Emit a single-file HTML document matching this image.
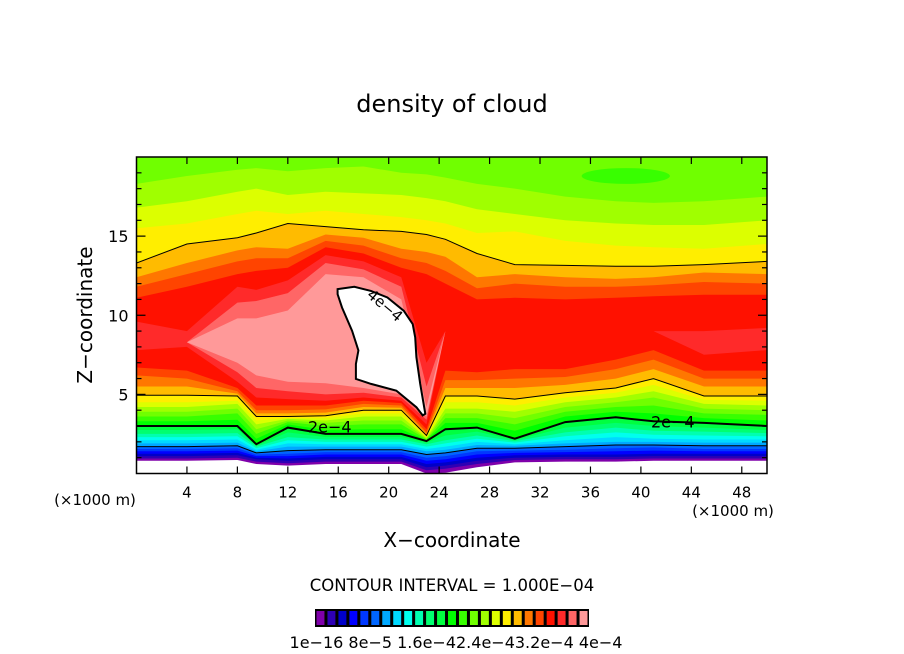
<!DOCTYPE html>
<html><head><meta charset="utf-8"><style>
html,body{margin:0;padding:0;background:#fff;}
svg{display:block;font-family:"DejaVu Sans","Liberation Sans",sans-serif;}
</style></head><body>
<svg id="chart" width="904" height="654" viewBox="0 0 904 654" xmlns="http://www.w3.org/2000/svg">
<rect x="0" y="0" width="904" height="654" fill="#fff"/>
<text x="452" y="112" text-anchor="middle" font-size="24">density of cloud</text>
<text transform="translate(92,315) rotate(-90)" text-anchor="middle" font-size="20">Z−coordinate</text>
<text x="452" y="547" text-anchor="middle" font-size="20">X−coordinate</text>
<text x="95" y="505" text-anchor="middle" font-size="15">(×1000 m)</text>
<text x="733" y="516" text-anchor="middle" font-size="15">(×1000 m)</text>
<text x="452" y="591" text-anchor="middle" font-size="16.5">CONTOUR INTERVAL = 1.000E−04</text>
<g id="plot"></g>
<g id="axes"></g>
<g id="cbar"></g>
</svg>
<script>
const colorLevels = ["#7f00aa","#2e00b4","#0000c8","#0000ff","#0038ff","#0066ff","#00a8ff","#00d8ff","#00ffee","#00ffb0","#00ff70","#00ff40","#00ff00","#38ff00","#70ff00","#a0ff00","#dcff00","#ffee00","#ffbb00","#ff7700","#ff4400","#ff1100","#ff2a2a","#ff6666","#ff9999"];
const colorbarLabels = ["1e−16","8e−5","1.6e−4","2.4e−4","3.2e−4","4e−4"];
const xTicks = [4,8,12,16,20,24,28,32,36,40,44,48];
const yTicks = [5,10,15];
const colX = [0,4,8,9.5,12,15,18,21,23,24.5,27,30,34,38,41,45,50];
const lowerBounds = [
[0.8,0.95,1.1,1.25,1.4,1.55,1.7,1.9,2.1,2.3,2.5,2.75,3.0,3.3,3.6,3.9,4.2,4.5,4.95,5.5,6.2,6.7,7.8,8.5,8.5],
[0.8,0.95,1.1,1.25,1.4,1.55,1.7,1.9,2.1,2.3,2.5,2.75,3.0,3.3,3.6,3.9,4.2,4.5,4.95,5.5,6.0,6.5,8.0,8.3,8.3],
[0.85,1.0,1.15,1.3,1.45,1.6,1.75,1.95,2.15,2.35,2.55,2.8,3.0,3.4,3.8,4.1,4.4,4.6,4.9,5.05,5.2,5.4,5.8,6.4,7.0],
[0.6,0.75,0.9,1.0,1.1,1.2,1.3,1.4,1.5,1.6,1.7,1.75,1.85,2.2,2.5,2.8,3.1,3.35,3.6,3.8,4.0,4.3,4.8,5.4,6.2],
[0.5,0.65,0.8,0.95,1.1,1.25,1.45,1.7,1.9,2.1,2.3,2.6,2.9,3.1,3.25,3.35,3.45,3.5,3.6,3.8,4.0,4.3,4.7,5.2,5.8],
[0.6,0.75,0.9,1.05,1.2,1.35,1.5,1.7,1.85,2.0,2.15,2.3,2.5,2.75,3.0,3.2,3.35,3.5,3.65,3.85,4.05,4.3,4.6,5.0,5.7],
[0.6,0.75,0.9,1.05,1.2,1.35,1.5,1.7,1.85,2.0,2.15,2.3,2.5,2.8,3.1,3.35,3.6,3.8,4.0,4.2,4.4,4.6,4.8,5.1,5.4],
[0.6,0.75,0.9,1.05,1.2,1.35,1.5,1.7,1.85,2.0,2.15,2.3,2.5,2.8,3.1,3.35,3.6,3.8,4.0,4.15,4.3,4.45,4.6,4.8,5.0],
[0.0,0.2,0.4,0.6,0.8,1.0,1.2,1.4,1.55,1.7,1.85,1.95,2.05,2.1,2.15,2.2,2.25,2.3,2.4,2.5,2.6,2.8,3.1,3.4,3.6],
[0.05,0.3,0.5,0.7,0.9,1.1,1.3,1.5,1.7,1.9,2.1,2.4,2.8,3.2,3.5,3.8,4.1,4.5,4.9,5.4,5.9,6.5,9,9,9],
[0.4,0.6,0.8,1.0,1.2,1.4,1.6,1.8,2.0,2.2,2.4,2.65,2.9,3.2,3.5,3.8,4.1,4.5,4.9,5.4,5.9,6.4,9,9,9],
[0.7,0.85,1.0,1.15,1.3,1.45,1.6,1.75,1.85,1.95,2.05,2.12,2.2,2.7,3.1,3.5,3.9,4.3,4.7,5.4,6.0,6.6,9,9,9],
[0.75,0.9,1.05,1.2,1.35,1.5,1.7,1.9,2.1,2.35,2.6,2.9,3.25,3.6,3.9,4.2,4.5,4.8,5.1,5.6,6.1,6.6,9,9,9],
[0.75,0.9,1.05,1.2,1.4,1.6,1.8,2.0,2.3,2.6,2.9,3.2,3.55,3.9,4.2,4.5,4.8,5.1,5.4,6.0,6.6,7.2,9,9,9],
[0.8,0.95,1.1,1.25,1.45,1.65,1.8,2.0,2.2,2.45,2.7,3.0,3.3,3.8,4.3,4.8,5.2,5.6,6.0,6.6,7.2,7.8,9,9,9],
[0.8,0.95,1.1,1.25,1.4,1.55,1.75,1.95,2.15,2.4,2.65,2.9,3.2,3.5,3.8,4.1,4.4,4.65,4.9,5.5,6.0,6.5,7.5,8.2,8.2],
[0.8,0.95,1.1,1.25,1.4,1.55,1.75,1.95,2.15,2.35,2.55,2.75,3.0,3.35,3.7,4.0,4.3,4.6,4.9,5.5,6.0,6.5,7.8,8.5,8.5]
];
const upperBounds = [
[18.3,16.8,15.5,13.3,12.4,11.8,11.1,9.6,8.5,8.5],
[18.8,17.2,15.8,14.5,13.3,12.6,11.8,9.0,8.3,8.3],
[19.2,17.8,16.4,14.9,14.1,13.4,12.6,11.8,10.8,9.8],
[19.3,18.0,16.6,15.2,14.3,13.6,12.8,11.6,10.9,9.8],
[19.1,17.6,16.4,15.8,14.2,13.6,13.0,12.2,11.4,10.3],
[19.3,17.8,16.6,15.6,15.1,14.7,14.3,13.8,13.3,12.6],
[19.4,17.7,16.4,15.4,14.9,14.4,13.9,13.4,12.9,12.4],
[19.0,17.6,16.2,15.3,14.2,13.6,13.0,12.4,11.8,11.0],
[18.9,17.4,16.0,15.1,14.0,13.3,12.6,7.0,5.5,4.2],
[18.7,17.2,15.8,14.8,13.7,12.8,12.0,9,9,9],
[18.3,16.7,15.2,13.9,12.4,11.7,11.0,9,9,9],
[18.0,16.4,15.3,13.2,12.6,12.0,11.1,9,9,9],
[17.5,16.0,14.7,13.15,12.4,11.8,11.0,9,9,9],
[17.2,15.8,14.4,13.1,12.3,11.8,11.1,9,9,9],
[17.1,15.7,14.3,13.1,12.4,11.9,11.2,9,9,9],
[17.2,15.7,14.2,13.2,12.7,12.1,11.3,9.0,8.2,8.2],
[17.5,16.0,14.5,13.4,12.6,12.0,11.3,9.2,8.5,8.5]
];
const blobX = [15.95,17.27,18.59,19.9,21.2,21.9,22.1,22.2,22.5,22.9,22.7,22.2,20.6,18.6,17.4,17.4,17.6,17.1,16.3,15.95];
const blobZ = [11.65,11.8,11.54,11.12,10.28,9.44,8.6,7.34,5.66,3.77,3.67,4.19,5.24,5.66,5.98,6.92,7.77,9.02,10.49,11.33];
const greenPatch = [38.8,18.8,3.5,0.5];

const NS="http://www.w3.org/2000/svg";
const X0=136.5,X1=767,Y0=473.5,Y1=157;
function sx(v){return X0+(v-0)/(50-0)*(X1-X0);}
function sy(v){return Y0-(v-0)/(20-0)*(Y0-Y1);}
function mk(tag,attrs,parent){const e=document.createElementNS(NS,tag);for(const k in attrs)e.setAttribute(k,attrs[k]);parent.appendChild(e);return e;}
const plot=document.getElementById('plot');
const clip=mk('clipPath',{id:'pc'},plot);
mk('rect',{x:X0,y:Y1,width:X1-X0,height:Y0-Y1},clip);
const g=mk('g',{'clip-path':'url(#pc)'},plot);


mk('rect',{x:X0,y:Y1,width:X1-X0,height:Y0-Y1,fill:'#fff'},g);
for(let k=0;k<colorLevels.length;k++){
  let top=[],bot=[];
  for(let i=0;i<colX.length;i++){
    const lo=lowerBounds[i][k];
    const hi=k>=15?upperBounds[i][k-15]:20.5;
    bot.push(sx(colX[i]).toFixed(1)+','+sy(lo).toFixed(1));
    top.push(sx(colX[i]).toFixed(1)+','+sy(hi).toFixed(1));
  }
  const pts=bot.concat(top.reverse()).join(' ');
  const p=mk('polygon',{points:pts,fill:colorLevels[k]},g);
  
  
}
const gp=mk('ellipse',{cx:sx(greenPatch[0]),cy:sy(greenPatch[1]),rx:sx(greenPatch[2])-sx(0),ry:sy(0)-sy(greenPatch[3]),fill:colorLevels[13]},g);


function line(vals,w,name){
  const pts=colX.map((x,i)=>sx(x).toFixed(1)+','+sy(vals[i]).toFixed(1)).join(' ');
  const l=mk('polyline',{points:pts,fill:'none',stroke:'#000','stroke-width':w},g);
  
  
}
line(lowerBounds.map(r=>r[6]),1,'contour-1e-4');
line(lowerBounds.map(r=>r[12]),2,'contour-2e-4');
line(lowerBounds.map(r=>r[18]),1,'contour-3e-4-lower');
line(upperBounds.map(r=>r[3]),1,'contour-3e-4-upper');
const bpts=blobX.map((x,i)=>sx(x).toFixed(1)+','+sy(blobZ[i]).toFixed(1)).join(' ');
const blob=mk('polygon',{points:bpts,fill:'#fff',stroke:'#000','stroke-width':2},g);


const lb1=mk('text',{x:0,y:0,'font-size':15,transform:'translate('+sx(18.2)+','+sy(11.2)+') rotate(40)'},g);
lb1.textContent='4e−4';


const lb2=mk('text',{x:sx(13.6),y:sy(2.6),'font-size':16},g);
lb2.textContent='2e−4';


const lb3=mk('text',{x:sx(40.8),y:sy(2.9),'font-size':16},g);
lb3.textContent='2e−4';


const ax=document.getElementById('axes');
const fr=mk('rect',{x:X0,y:Y1,width:X1-X0,height:Y0-Y1,fill:'none',stroke:'#000','stroke-width':1.5},ax);


for(const t of xTicks){
  const x=sx(t);
  mk('line',{x1:x,y1:Y0,x2:x,y2:Y0-7,stroke:'#000','stroke-width':1.2},ax);
  mk('line',{x1:x,y1:Y1,x2:x,y2:Y1+7,stroke:'#000','stroke-width':1.2},ax);
  const tx=mk('text',{x:x,y:Y0+24,'text-anchor':'middle','font-size':15},ax);
  tx.textContent=t;
  
  
}
for(let v=1;v<20;v++){
  const y=sy(v),len=yTicks.includes(v)?9:5;
  mk('line',{x1:X0,y1:y,x2:X0+len,y2:y,stroke:'#000','stroke-width':1.2},ax);
  mk('line',{x1:X1,y1:y,x2:X1-len,y2:y,stroke:'#000','stroke-width':1.2},ax);
}
for(const t of yTicks){
  const ty=mk('text',{x:X0-8,y:sy(t)+6,'text-anchor':'end','font-size':16},ax);
  ty.textContent=t;
  
  
}
const cb=document.getElementById('cbar');
const CB0=315,CB1=589,CBY=609,CBH=18,bw=(CB1-CB0)/colorLevels.length;
mk('rect',{x:CB0,y:CBY,width:CB1-CB0,height:CBH,fill:'#000'},cb);
colorLevels.forEach((c,i)=>{
  const r=mk('rect',{x:CB0+i*bw+1.5,y:CBY+2,width:bw-3,height:CBH-4,fill:c},cb);
  
  
});
const cbl=mk('text',{x:456,y:648,'text-anchor':'middle','font-size':16},cb);
cbl.textContent=colorbarLabels[0]+' '+colorbarLabels[1]+' '+colorbarLabels[2]+colorbarLabels[3]+colorbarLabels[4]+' '+colorbarLabels[5];


</script>
</body></html>
